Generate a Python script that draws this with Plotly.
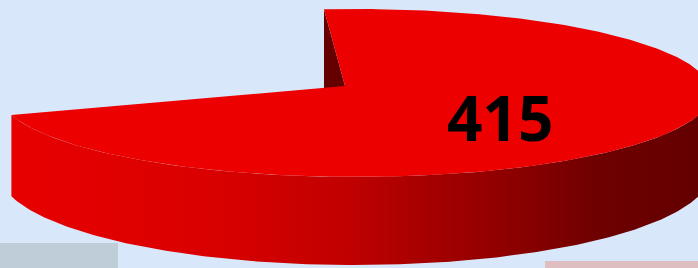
import numpy as np
import plotly.graph_objects as go

# ---- data ----
labels = ["A", "B"]
values = [415, 160]          # 415 = visible slice, second slice is cut away
label_text = ["415"]

# ---- geometry (style / layout parameters) ----
W, H = 698, 268
cx, cy = 355.0, 93.0         # ellipse centre (pixels)
rx, ry = 356.0, 84.0
apex = (345.0, 86.0)         # perspective-shifted pie centre
depth0, depth_k = 79.0, 9.0  # side wall depth (grows toward viewer)
start_deg = 95.0             # 12 o'clock cut position (parametric)

total = float(sum(values))
span = 360.0 * values[0] / total
t0 = np.deg2rad(start_deg)
t1 = np.deg2rad(start_deg - span)

def rim(t):
    return cx + rx * np.cos(t), cy - ry * np.sin(t)

def depth(t):
    return depth0 + depth_k * np.maximum(-np.sin(t), 0)

fig = go.Figure()

# inner wall at the 12 o'clock cut
rx0, ry0 = rim(t0)
d0 = depth(t0)
fig.add_trace(go.Scatter(
    x=[rx0, apex[0], apex[0], rx0, rx0],
    y=[ry0, apex[1], apex[1] + d0, ry0 + d0, ry0],
    fill="toself", fillcolor="#640000", mode="lines",
    line=dict(width=0), hoverinfo="skip", showlegend=False))

# outer front wall (visible part: from t1 to 0)
ts = np.linspace(t1, 0.0, 200)
tx, ty = rim(ts)
bx, by = tx, ty + depth(ts)
fig.add_trace(go.Scatter(
    x=np.concatenate([tx, bx[::-1], tx[:1]]),
    y=np.concatenate([ty, by[::-1], ty[:1]]),
    fill="toself", mode="lines", line=dict(width=0),
    fillgradient=dict(type="horizontal", start=0, stop=W,
                      colorscale=[[0.0, "#e80000"], [0.3, "#da0000"],
                                  [0.5, "#c00000"], [0.6, "#a80000"],
                                  [0.72, "#900000"], [0.86, "#6e0000"],
                                  [1.0, "#640000"]]),
    hoverinfo="skip", showlegend=False))

# top face sector
tt = np.linspace(t0, t1, 400)
sx, sy = rim(tt)
fig.add_trace(go.Scatter(
    x=np.concatenate([[apex[0]], sx, [apex[0]]]),
    y=np.concatenate([[apex[1]], sy, [apex[1]]]),
    fill="toself", fillcolor="#ec0000", mode="lines",
    line=dict(width=0), hoverinfo="skip", showlegend=False,
    name=labels[0]))

fig.add_annotation(x=500, y=117, text="<b>" + label_text[0] + "</b>",
                   showarrow=False, xref="x", yref="y",
                   font=dict(family="Open Sans, Noto Sans, sans-serif",
                             size=62, color="#000000"))

fig.update_layout(
    width=W, height=H,
    margin=dict(l=0, r=0, t=0, b=0),
    paper_bgcolor="#d9e7fa", plot_bgcolor="#d9e7fa",
    xaxis=dict(range=[0, W], visible=False, fixedrange=True),
    yaxis=dict(range=[H, 0], visible=False, fixedrange=True),
    shapes=[
        dict(type="rect", xref="x", yref="y", x0=0, x1=118, y0=243, y1=H,
             fillcolor="#b4c4cc", opacity=0.75, line=dict(width=0),
             layer="below"),
        dict(type="rect", xref="x", yref="y", x0=545, x1=W, y0=261, y1=H,
             fillcolor="#e2a49c", opacity=0.6, line=dict(width=0),
             layer="below"),
    ],
)

fig.write_html("out.html",
               config={"displayModeBar": False},
               post_script="document.body.style.margin='0';"
                           "document.body.style.background='#d9e7fa';")
